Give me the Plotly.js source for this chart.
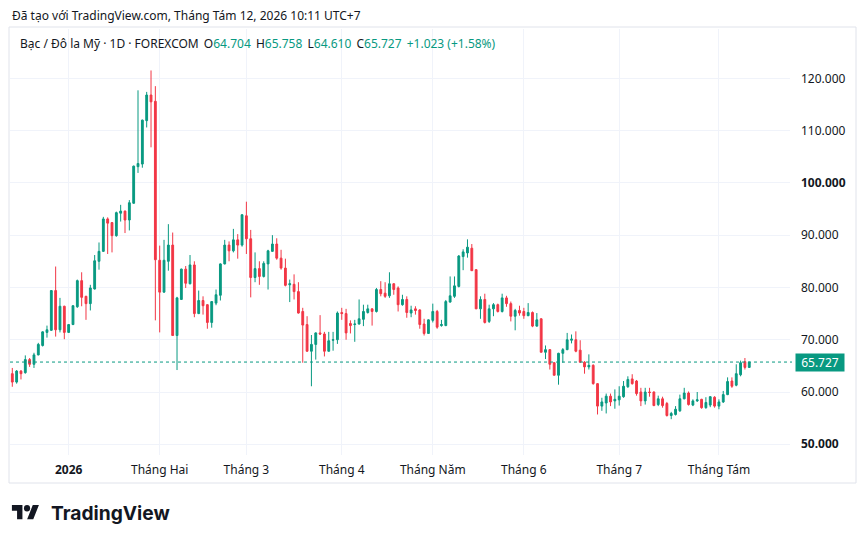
<!DOCTYPE html>
<html>
<head>
<meta charset="utf-8">
<script src="https://cdn.plot.ly/plotly-3.0.1.min.js"></script>
<style>
  html, body { margin: 0; padding: 0; background: #ffffff; }
  #chart { width: 866px; height: 543px; }
</style>
</head>
<body>
<div id="chart"></div>
<script>
// ---- Data ----
const startDate = '2025-12-12';
const holidays = ['2025-12-25', '2026-01-01', '2026-04-03'];

const openVals = [
  63.5, 61.9, 64.0, 63.7, 66.2, 65.3, 67.1, 68.9, 71.4, 71.8,
  79.4, 71.9, 76.4, 71.4, 72.9, 76.3, 81.3, 78.3, 76.9, 79.7,
  85.0, 86.9, 93.1, 92.4, 89.9, 94.2, 94.6, 92.9, 96.1, 103.1,
  103.6, 111.9, 116.8, 115.6, 85.2, 79.1, 85.0, 88.1, 70.8, 77.7,
  83.5, 80.7, 84.3, 75.0, 77.5, 76.7, 73.3, 77.0, 78.5, 84.5,
  88.1, 87.0, 89.1, 88.1, 93.7, 89.3, 81.9, 83.6, 82.1, 84.5,
  86.9, 88.3, 85.6, 83.7, 80.5, 80.6, 79.2, 75.4, 72.9, 67.8,
  69.1, 71.3, 71.1, 67.8, 69.9, 70.0, 75.2, 75.0, 73.1, 72.9,
  73.0, 73.9, 75.2, 75.9, 75.4, 79.6, 78.9, 78.4, 80.7, 79.9,
  76.7, 77.7, 75.1, 75.9, 75.7, 73.0, 71.2, 73.7, 75.4, 72.7,
  72.7, 77.2, 78.3, 80.2, 85.9, 86.6, 87.5, 83.4, 75.9, 77.7,
  73.5, 75.9, 76.7, 75.4, 78.0, 76.9, 74.5, 75.6, 75.4, 74.6,
  75.2, 72.6, 74.0, 67.6, 68.1, 65.6, 63.2, 67.4, 68.1, 69.9,
  70.0, 68.0, 65.7, 64.8, 65.1, 61.6, 57.3, 57.9, 59.2, 58.3,
  58.5, 59.1, 61.0, 62.5, 62.1, 60.0, 58.3, 60.0, 60.0, 57.6,
  58.7, 57.8, 55.5, 55.7, 56.4, 58.7, 59.8, 57.5, 58.3, 58.6,
  57.0, 57.5, 59.0, 57.3, 58.1, 59.5, 62.1, 61.3, 63.3, 65.8,
  64.704
];
const highVals = [
  64.6, 64.2, 64.2, 67.0, 66.5, 67.5, 69.4, 71.6, 72.7, 79.5,
  84.0, 78.0, 76.5, 73.0, 76.6, 81.5, 82.9, 78.4, 80.5, 86.2,
  88.6, 93.5, 93.4, 92.5, 94.5, 95.8, 94.7, 96.7, 103.3, 117.7,
  112.1, 117.4, 121.5, 118.5, 88.0, 89.1, 92.1, 90.5, 78.2, 83.6,
  84.1, 86.2, 85.0, 79.4, 78.3, 76.8, 77.4, 79.6, 84.6, 89.1,
  88.8, 91.2, 90.2, 94.0, 96.4, 91.0, 86.7, 85.0, 85.0, 87.2,
  90.0, 89.4, 87.2, 85.5, 81.5, 82.5, 81.0, 76.1, 74.5, 70.9,
  71.4, 74.7, 71.5, 71.5, 71.5, 75.4, 76.1, 75.9, 73.7, 73.8,
  77.7, 76.7, 76.7, 76.0, 79.9, 81.2, 81.0, 82.9, 80.8, 80.2,
  78.6, 78.3, 76.5, 76.4, 75.8, 74.0, 73.9, 76.9, 75.7, 73.8,
  77.6, 82.1, 82.1, 86.2, 87.3, 89.2, 88.3, 83.5, 78.3, 78.8,
  76.7, 77.0, 76.9, 78.8, 78.4, 77.3, 75.9, 76.5, 76.1, 77.0,
  75.4, 75.1, 74.1, 68.9, 68.2, 65.7, 67.5, 68.4, 71.3, 71.0,
  71.6, 69.9, 65.9, 67.2, 65.3, 61.7, 58.9, 59.7, 59.7, 60.5,
  61.1, 62.1, 63.0, 63.4, 62.3, 60.8, 60.8, 60.8, 60.1, 59.3,
  59.1, 58.1, 56.2, 57.3, 59.5, 60.8, 60.1, 58.6, 60.0, 58.7,
  59.0, 59.2, 59.2, 58.6, 60.2, 62.8, 62.8, 65.3, 66.0, 66.5,
  65.758
];
const lowVals = [
  61.0, 61.6, 62.4, 63.5, 64.8, 64.6, 67.0, 68.7, 70.4, 71.7,
  70.6, 71.4, 70.1, 71.3, 72.8, 76.1, 76.4, 73.8, 75.6, 79.6,
  83.4, 86.8, 86.4, 86.7, 89.7, 92.6, 90.4, 90.9, 96.0, 101.9,
  102.9, 110.6, 106.8, 73.7, 71.4, 79.0, 83.2, 70.8, 64.2, 77.6,
  79.9, 80.6, 74.3, 74.9, 74.8, 72.1, 72.3, 76.6, 77.5, 84.4,
  85.0, 86.7, 85.5, 87.8, 86.4, 78.1, 81.0, 80.5, 81.9, 79.6,
  86.8, 85.3, 83.4, 80.2, 77.2, 77.7, 75.0, 65.6, 67.7, 61.1,
  66.2, 70.9, 66.8, 67.7, 67.9, 69.2, 73.8, 70.0, 71.2, 69.6,
  72.9, 72.6, 75.0, 72.7, 75.2, 78.3, 78.0, 78.0, 78.6, 75.4,
  76.5, 74.2, 74.3, 74.8, 72.1, 70.8, 71.1, 73.3, 72.1, 72.5,
  72.6, 77.1, 78.0, 80.0, 83.3, 85.7, 83.2, 75.9, 74.0, 73.1,
  73.2, 74.5, 75.2, 75.2, 76.3, 73.5, 71.8, 74.6, 74.0, 74.5,
  72.4, 72.5, 67.6, 66.3, 64.3, 63.2, 61.4, 65.6, 68.0, 69.3,
  67.6, 65.6, 63.5, 64.3, 61.4, 55.7, 56.4, 55.9, 57.3, 56.8,
  57.4, 58.9, 60.8, 61.4, 59.3, 57.3, 57.6, 59.1, 57.3, 57.3,
  57.0, 55.3, 54.8, 55.5, 56.2, 58.6, 57.4, 57.3, 58.1, 56.8,
  56.8, 57.1, 57.0, 56.7, 57.9, 59.4, 60.8, 61.1, 63.0, 64.3,
  64.610
];
const closeVals = [
  61.9, 64.0, 63.5, 66.2, 65.3, 67.1, 69.1, 71.5, 71.9, 79.4,
  71.9, 76.4, 71.4, 72.9, 76.5, 81.3, 78.1, 76.9, 79.9, 85.1,
  86.9, 93.1, 92.3, 89.9, 94.3, 94.6, 92.9, 96.2, 103.2, 103.7,
  112.0, 116.8, 115.5, 85.3, 79.1, 85.2, 88.1, 70.8, 78.0, 83.5,
  80.8, 84.3, 75.0, 77.5, 76.5, 73.3, 77.3, 78.6, 84.5, 88.1,
  87.0, 89.1, 88.1, 93.9, 89.3, 81.9, 83.6, 82.1, 84.6, 87.0,
  88.3, 85.6, 83.7, 80.4, 80.7, 79.2, 75.1, 72.8, 67.8, 69.1,
  71.3, 71.1, 67.8, 69.8, 70.0, 75.1, 75.0, 71.3, 72.7, 73.0,
  74.0, 75.4, 75.9, 75.4, 79.6, 78.8, 78.3, 80.7, 79.6, 76.7,
  77.7, 75.2, 75.7, 75.6, 72.9, 71.2, 73.8, 75.4, 72.4, 72.9,
  77.3, 78.4, 80.3, 86.0, 86.8, 87.7, 83.2, 75.9, 77.7, 73.3,
  75.9, 76.7, 75.4, 78.0, 76.9, 74.5, 75.6, 75.1, 74.6, 75.2,
  72.6, 73.8, 67.6, 68.1, 65.3, 63.2, 67.4, 68.1, 70.0, 70.1,
  67.8, 65.7, 64.8, 65.1, 61.6, 57.3, 58.1, 59.2, 58.1, 58.6,
  59.2, 61.1, 62.4, 61.6, 59.7, 58.3, 60.0, 59.9, 57.4, 58.7,
  57.4, 55.5, 55.9, 56.7, 58.7, 59.8, 57.6, 58.3, 58.5, 57.0,
  58.0, 59.1, 57.3, 58.1, 59.5, 62.0, 61.1, 63.5, 65.6, 64.704,
  65.727
];

const tickDates = ['2026-01-02', '2026-02-02', '2026-03-02', '2026-04-01',
                   '2026-05-01', '2026-06-01', '2026-07-01', '2026-08-03'];
const tickLabels = ['<b>2026</b>', 'Tháng Hai', 'Tháng 3', 'Tháng 4',
                    'Tháng Năm', 'Tháng 6', 'Tháng 7', 'Tháng Tám'];
const priceTicks = [50, 60, 70, 80, 90, 100, 110, 120];
const priceTickLabels = ['<b>50.000</b>', '60.000', '70.000', '80.000', '90.000',
                         '<b>100.000</b>', '110.000', '120.000'];

const lastPrice = 65.727;
const headerLine1 = 'Đã tạo với TradingView.com, Tháng Tám 12, 2026 10:11 UTC+7';
const symbolText = 'Bạc / Đô la Mỹ · 1D · FOREXCOM';
const ohlcText = ['64.704', '65.758', '64.610', '65.727'];
const changeText = '+1.023 (+1.58%)';

// ---- build trading dates ----
function tradingDays(start, n, hol) {
  const out = [];
  const d = new Date(start + 'T00:00:00Z');
  while (out.length < n) {
    const wd = d.getUTCDay();
    const s = d.toISOString().slice(0, 10);
    if (wd !== 0 && wd !== 6 && hol.indexOf(s) < 0) out.push(s);
    d.setUTCDate(d.getUTCDate() + 1);
  }
  return out;
}
const dates = tradingDays(startDate, closeVals.length, holidays);

const UP = '#089981', DOWN = '#f23645', TXT = '#131722';
const FONT = 'Noto Sans, Open Sans, sans-serif';

const trace = {
  type: 'candlestick',
  x: dates,
  open: openVals, high: highVals, low: lowVals, close: closeVals,
  increasing: { line: { color: UP, width: 1 }, fillcolor: UP },
  decreasing: { line: { color: DOWN, width: 1 }, fillcolor: DOWN },
  whiskerwidth: 0,
  hoverinfo: 'skip'
};

// pixel helpers for paper coords (plot area: x 10..790, y 29..455)
const PL = 10, PR = 790, PT = 29, PB = 455;
const px = x => (x - PL) / (PR - PL);
const py = y => (PB - y) / (PB - PT);

const g = s => '<span style="color:' + UP + '">' + s + '</span>';
const sp = '\u00a0\u2009';
const line2 = symbolText + sp + 'O' + g(ohlcText[0]) + sp + 'H' + g(ohlcText[1]) + sp +
              'L' + g(ohlcText[2]) + sp + 'C' + g(ohlcText[3]) + sp + g(changeText);

const logoSvg = '<svg xmlns="http://www.w3.org/2000/svg" width="36" height="18" viewBox="0 4 36 18">' +
  '<path d="M14 22H7V11H0V4h14v18zM28 22h-8l7.5-18h8L28 22z" fill="#131722"/>' +
  '<circle cx="20" cy="8" r="4" fill="#131722"/></svg>';

const layout = {
  width: 866, height: 543,
  margin: { l: PL, r: 866 - PR, t: PT, b: 543 - PB, pad: 0 },
  paper_bgcolor: '#ffffff', plot_bgcolor: '#ffffff',
  showlegend: false, hovermode: false,
  boxgap: 0.4,
  font: { family: FONT, size: 12, color: TXT },
  xaxis: {
    type: 'category',
    range: [-0.53, 179.4],
    rangeslider: { visible: false },
    tickmode: 'array', tickvals: tickDates, ticktext: tickLabels,
    showgrid: true, gridcolor: '#f0f3fa', gridwidth: 1,
    showline: false, zeroline: false, ticks: '',
    ticklabelstandoff: 6,
    tickfont: { family: FONT, size: 12, color: TXT },
    fixedrange: true
  },
  yaxis: {
    side: 'right',
    range: [47.95, 129.43],
    tickmode: 'array', tickvals: priceTicks, ticktext: priceTickLabels,
    showgrid: true, gridcolor: '#f0f3fa', gridwidth: 1,
    showline: false, zeroline: false, ticks: '',
    ticklabelstandoff: 10,
    tickfont: { family: FONT, size: 12, color: TXT },
    fixedrange: true
  },
  shapes: [
    { type: 'rect', xref: 'paper', yref: 'paper',
      x0: px(9), x1: px(856), y0: py(483), y1: py(27),
      line: { color: '#e0e3eb', width: 1 }, fillcolor: 'rgba(0,0,0,0)', layer: 'below' },
    { type: 'line', xref: 'paper', yref: 'y', x0: 0, x1: px(792),
      y0: lastPrice, y1: lastPrice,
      line: { color: UP, width: 1, dash: 'dot' } }
  ],
  annotations: [
    { xref: 'paper', yref: 'paper', x: px(10), y: py(15.5), xanchor: 'left', yanchor: 'middle',
      text: headerLine1, showarrow: false, font: { family: FONT, size: 12, color: TXT } },
    { xref: 'paper', yref: 'paper', x: px(18), y: py(43), xanchor: 'left', yanchor: 'middle',
      text: line2, showarrow: false, font: { family: FONT, size: 12, color: TXT } },
    { xref: 'paper', yref: 'y', x: px(795), y: lastPrice, xanchor: 'left', yanchor: 'middle',
      text: lastPrice.toFixed(3), showarrow: false, bgcolor: UP, borderpad: 2,
      width: 44, height: 13, font: { family: FONT, size: 12, color: '#ffffff' } },
    { xref: 'paper', yref: 'paper', x: px(49), y: py(512.5), xanchor: 'left', yanchor: 'middle',
      text: '<b>TradingView</b>', showarrow: false,
      font: { family: 'Inter, Noto Sans, sans-serif', size: 19.2, color: TXT } }
  ],
  images: [
    { source: 'data:image/svg+xml;charset=utf-8,' + encodeURIComponent(logoSvg),
      xref: 'paper', yref: 'paper', x: px(11.7), y: py(505),
      sizex: 27.6 / (PR - PL), sizey: 14.5 / (PB - PT),
      xanchor: 'left', yanchor: 'top', sizing: 'stretch', layer: 'above' }
  ]
};

Plotly.newPlot('chart', [trace], layout, { staticPlot: true, displayModeBar: false });
</script>
</body>
</html>
